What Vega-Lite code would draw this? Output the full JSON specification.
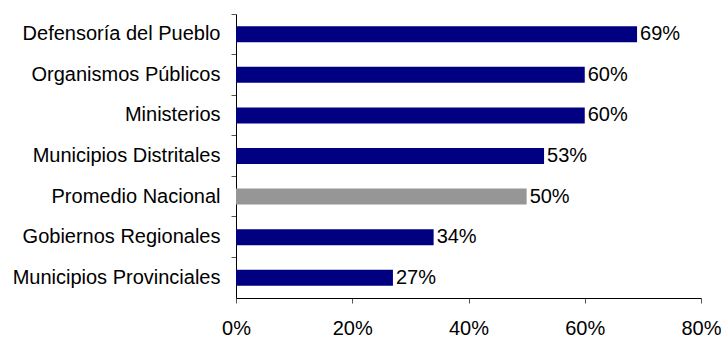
{
  "$schema": "https://vega.github.io/schema/vega-lite/v6.json",
  "width": 465,
  "height": 284,
  "autosize": {"type": "none"},
  "padding": {"left": 236, "top": 14, "right": 20, "bottom": 40},
  "background": "white",
  "config": {
    "view": {"stroke": null},
    "font": "Liberation Sans"
  },
  "data": {
    "values": [
      {"cat": "Defensoría del Pueblo", "val": 0.69, "type": "inst"},
      {"cat": "Organismos Públicos", "val": 0.60, "type": "inst"},
      {"cat": "Ministerios", "val": 0.60, "type": "inst"},
      {"cat": "Municipios Distritales", "val": 0.53, "type": "inst"},
      {"cat": "Promedio Nacional", "val": 0.50, "type": "prom"},
      {"cat": "Gobiernos Regionales", "val": 0.34, "type": "inst"},
      {"cat": "Municipios Provinciales", "val": 0.27, "type": "inst"}
    ]
  },
  "encoding": {
    "y": {
      "field": "cat", "type": "nominal", "sort": null,
      "scale": {"paddingInner": 0, "paddingOuter": 0},
      "axis": {
        "title": null, "bandPosition": 0, "tickSize": 5, "tickColor": "#555",
        "domainColor": "black", "labelFontSize": 20, "labelColor": "black",
        "labelPadding": 11, "labelLimit": 400, "labelFont": "Liberation Sans", "grid": false
      }
    },
    "x": {
      "field": "val", "type": "quantitative",
      "scale": {"domain": [0, 0.8], "nice": false},
      "axis": {
        "title": null, "format": ".0%", "values": [0, 0.2, 0.4, 0.6, 0.8],
        "grid": false, "tickSize": 5, "tickColor": "#555", "domainColor": "black",
        "labelFontSize": 20, "labelColor": "black", "labelPadding": 15,
        "labelFont": "Liberation Sans", "labelFlush": false
      }
    }
  },
  "layer": [
    {
      "mark": {"type": "bar", "size": 16},
      "encoding": {
        "color": {
          "field": "type", "type": "nominal",
          "scale": {"domain": ["inst", "prom"], "range": ["#000080", "#969696"]},
          "legend": null
        }
      }
    },
    {
      "mark": {"type": "text", "align": "left", "dx": 3, "fontSize": 20, "font": "Liberation Sans", "color": "black"},
      "encoding": {
        "text": {"field": "val", "type": "quantitative", "format": ".0%"}
      }
    }
  ]
}
